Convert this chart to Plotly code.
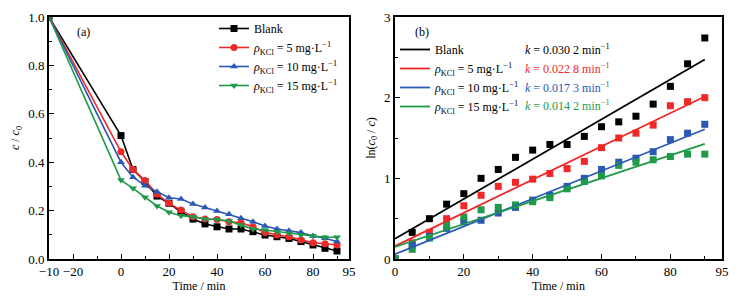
import plotly.graph_objects as go

# ---------------- data ----------------
# panel (a): c/c0 vs time; first point drawn at the left edge of the axis
time_a = [-30, 0, 5, 10, 15, 20, 25, 30, 35, 40, 45, 50, 55, 60, 65, 70, 75, 80, 85, 90]
blank_a = [1.0, 0.51, 0.37, 0.32, 0.26, 0.23, 0.195, 0.165, 0.145, 0.133, 0.124, 0.124, 0.113, 0.099, 0.092, 0.085, 0.072, 0.058, 0.044, 0.033]
kcl5_a = [1.0, 0.443, 0.37, 0.324, 0.268, 0.23, 0.202, 0.175, 0.165, 0.163, 0.154, 0.15, 0.133, 0.11, 0.099, 0.092, 0.079, 0.067, 0.063, 0.058]
kcl10_a = [1.0, 0.40, 0.338, 0.303, 0.278, 0.253, 0.248, 0.227, 0.213, 0.198, 0.185, 0.168, 0.154, 0.136, 0.124, 0.117, 0.109, 0.095, 0.086, 0.072]
kcl15_a = [1.0, 0.326, 0.292, 0.255, 0.219, 0.193, 0.179, 0.175, 0.165, 0.163, 0.157, 0.14, 0.124, 0.12, 0.113, 0.106, 0.099, 0.095, 0.09, 0.09]
xticks_a = [-30, -20, 0, 20, 40, 60, 80, 95]
xticklabels_a = ["−10", "−20", "0", "20", "40", "60", "80", "95"]

# panel (b): ln(c0/c) vs time
time_b = [0, 5, 10, 15, 20, 25, 30, 35, 40, 45, 50, 55, 60, 65, 70, 75, 80, 85, 90]
blank_b = [0.0, 0.33, 0.50, 0.68, 0.81, 1.00, 1.11, 1.26, 1.35, 1.42, 1.42, 1.52, 1.64, 1.70, 1.77, 1.92, 2.14, 2.42, 2.74]
kcl5_b = [0.0, 0.20, 0.33, 0.50, 0.66, 0.79, 0.90, 0.95, 0.99, 1.06, 1.12, 1.21, 1.38, 1.50, 1.56, 1.66, 1.90, 1.95, 2.00]
kcl10_b = [0.0, 0.17, 0.28, 0.38, 0.46, 0.48, 0.57, 0.64, 0.73, 0.79, 0.90, 1.00, 1.11, 1.20, 1.25, 1.33, 1.48, 1.56, 1.67]
kcl15_b = [0.0, 0.12, 0.26, 0.42, 0.52, 0.61, 0.64, 0.67, 0.71, 0.76, 0.87, 0.96, 1.03, 1.16, 1.20, 1.23, 1.27, 1.30, 1.30]
fit_intercept = [0.25, 0.16, 0.06, 0.15]
fit_slope = [0.0247, 0.0206, 0.0172, 0.0142]
fit_range = [0, 90]
k_labels = ["0.030 2", "0.022 8", "0.017 3", "0.014 2"]

names = ["Blank",
         "<i>ρ</i><sub>KCl</sub> = 5 mg·L<sup>−1</sup>",
         "<i>ρ</i><sub>KCl</sub> = 10 mg·L<sup>−1</sup>",
         "<i>ρ</i><sub>KCl</sub> = 15 mg·L<sup>−1</sup>"]
colors = ["#000000", "#f02828", "#2a58b4", "#1f9a48"]
symbols = ["square", "circle", "triangle-up", "triangle-down"]

FONT = "Liberation Serif"
W, H = 742, 306
OFF = 8  # page body margin


def px_x(p):
    return (p - OFF) / W


def px_y(p):
    return 1 - (p - OFF) / H


fig = go.Figure()

series_a = [blank_a, kcl5_a, kcl10_a, kcl15_a]
for i, ys in enumerate(series_a):
    fig.add_trace(go.Scatter(
        x=time_a, y=ys, mode="lines+markers", name=names[i],
        line=dict(color=colors[i], width=1.6),
        marker=dict(symbol=symbols[i], size=7, color=colors[i]),
        xaxis="x", yaxis="y", legend="legend"))

series_b = [blank_b, kcl5_b, kcl10_b, kcl15_b]
for i, ys in enumerate(series_b):
    fig.add_trace(go.Scatter(
        x=time_b, y=ys, mode="markers", showlegend=False,
        marker=dict(symbol="square", size=7, color=colors[i]),
        xaxis="x2", yaxis="y2"))
for i in range(4):
    fx = fit_range
    fy = [fit_intercept[i] + fit_slope[i] * t for t in fx]
    fig.add_trace(go.Scatter(
        x=fx, y=fy, mode="lines", name=names[i],
        line=dict(color=colors[i], width=1.8),
        xaxis="x2", yaxis="y2", legend="legend2"))

axis_common = dict(showline=True, linecolor="black", linewidth=1.6, mirror=True,
                   ticks="inside", ticklen=5, tickwidth=1.2, tickcolor="black",
                   showgrid=False, zeroline=False, automargin=False,
                   tickfont=dict(family=FONT, size=13, color="black"))

ydom = [px_y(259), px_y(17)]
fig.update_layout(
    width=W, height=H,
    margin=dict(l=0, r=0, t=0, b=0),
    paper_bgcolor="white", plot_bgcolor="white",
    font=dict(family=FONT, size=12, color="black"),
    xaxis=dict(domain=[px_x(49), px_x(349)], range=[-30, 95],
               tickvals=xticks_a, ticktext=xticklabels_a,
               minor=dict(tickvals=[-10, 10, 30, 50, 70, 90], ticks="inside", ticklen=3, tickcolor="black"),
               title=dict(text="Time / min", font=dict(family=FONT, size=12), standoff=2),
               anchor="y", **axis_common),
    yaxis=dict(domain=ydom, range=[0, 1.0],
               tickvals=[0, 0.2, 0.4, 0.6, 0.8, 1.0], ticktext=["0.0", "0.2", "0.4", "0.6", "0.8", "1.0"],
               minor=dict(tickvals=[0.1, 0.3, 0.5, 0.7, 0.9], ticks="inside", ticklen=3, tickcolor="black"),
               title=dict(text="<i>c</i> / <i>c</i><sub>0</sub>", font=dict(family=FONT, size=12), standoff=8),
               anchor="x", **axis_common),
    xaxis2=dict(domain=[px_x(395), px_x(722)], range=[0, 95],
                tickvals=[0, 20, 40, 60, 80, 95],
                minor=dict(tickvals=[10, 30, 50, 70, 90], ticks="inside", ticklen=3, tickcolor="black"),
                title=dict(text="Time / min", font=dict(family=FONT, size=12), standoff=2),
                anchor="y2", **axis_common),
    yaxis2=dict(domain=ydom, range=[0, 3],
                tickvals=[0, 1, 2, 3],
                minor=dict(tickvals=[0.5, 1.5, 2.5], ticks="inside", ticklen=3, tickcolor="black"),
                title=dict(text="ln(<i>c</i><sub>0</sub> / <i>c</i>)", font=dict(family=FONT, size=12), standoff=6),
                anchor="x2", **axis_common),
    legend=dict(x=px_x(214), y=px_y(14), xanchor="left", yanchor="top",
                bgcolor="rgba(0,0,0,0)", borderwidth=0,
                font=dict(family=FONT, size=12), itemwidth=30, tracegroupgap=0),
    legend2=dict(x=px_x(395), y=px_y(35), xanchor="left", yanchor="top",
                 bgcolor="rgba(0,0,0,0)", borderwidth=0,
                 font=dict(family=FONT, size=12), itemwidth=30, tracegroupgap=0),
)

annotations = [
    dict(text="(a)", x=px_x(75), y=px_y(32), xref="paper", yref="paper",
         showarrow=False, font=dict(family=FONT, size=12), xanchor="left", yanchor="middle"),
    dict(text="(b)", x=px_x(413), y=px_y(32), xref="paper", yref="paper",
         showarrow=False, font=dict(family=FONT, size=12), xanchor="left", yanchor="middle"),
]
k_y = [50, 69, 88, 106]
for i in range(4):
    annotations.append(dict(
        text=f"<i>k</i> = {k_labels[i]} min<sup>−1</sup>",
        x=px_x(523), y=px_y(k_y[i]), xref="paper", yref="paper", showarrow=False,
        xanchor="left", yanchor="middle", font=dict(family=FONT, size=12, color=colors[i])))
fig.update_layout(annotations=annotations)

fig.write_html("out.html")
